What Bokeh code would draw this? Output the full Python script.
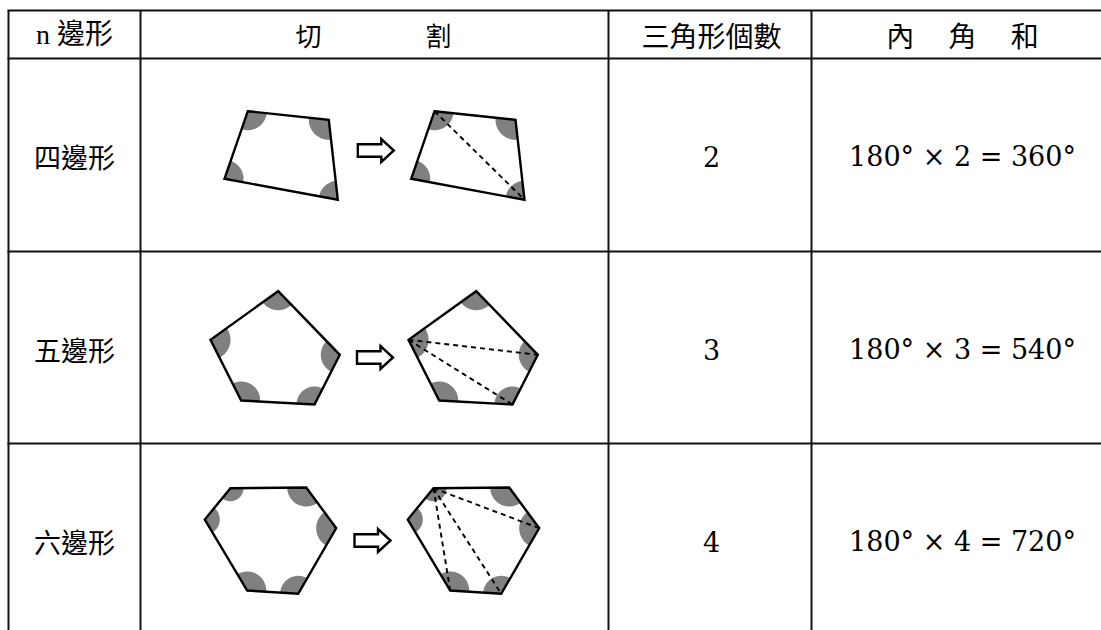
import numpy as np
from bokeh.plotting import figure
from bokeh.models import Range1d
from bokeh.core.properties import value
from bokeh.embed import file_html
from bokeh.resources import INLINE

# ---------------- data ----------------
headers = ["n 邊形", "切　　　　割", "三角形個數", "內　 角　 和"]
row_labels = ["四邊形", "五邊形", "六邊形"]
triangle_counts = [2, 3, 4]
angle_sums = [360, 540, 720]

# polygon vertices (page pixels, y downward) of the original shapes
quad_vertices = [(247.3, 110.7), (328.3, 119.3), (337.3, 199.3), (224.0, 178.3)]
pent_vertices = [(277.7, 290.7), (339.3, 354.3), (314.0, 404.0), (240.7, 400.0), (210.0, 339.3)]
hexa_vertices = [(230.0, 487.7), (305.7, 487.0), (335.7, 527.7), (297.7, 593.3), (246.7, 590.0), (204.3, 519.0)]
shapes = [quad_vertices, pent_vertices, hexa_vertices]
# angle marker radius per vertex
wedge_radii = [[19, 20, 19, 19], [19, 19, 18, 19, 20], [13, 19, 20, 18, 19, 15]]
# shift of the cut copy, vertex from which diagonals are drawn
split_shift = [186.7, 198.0, 203.0]
diag_apex = [0, 4, 0]
# arrow centres
arrow_centers = [(375.3, 150.0), (374.5, 357.0), (372.0, 540.0)]

# ---------------- layout ----------------
W, H = 1101, 630
col_lines = [8, 140, 608, 811]
row_lines = [10, 58, 251, 443]
col_centers = [74, 373, 711, 962]
header_y = 34
row_text_y = [156, 349, 541]

p = figure(width=W, height=H, output_backend="svg", toolbar_location=None,
           x_range=Range1d(0, W), y_range=Range1d(H, 0),
           min_border=0, outline_line_color=None, background_fill_color="white",
           border_fill_color="white")
p.xaxis.visible = False
p.yaxis.visible = False
p.grid.visible = False

# table lines
p.segment(x0=[col_lines[0] - 1] * len(row_lines), y0=row_lines, x1=[W + 20] * len(row_lines), y1=row_lines,
          line_color="#111111", line_width=2)
p.segment(x0=col_lines, y0=[row_lines[0]] * len(col_lines), x1=col_lines, y1=[H + 20] * len(col_lines),
          line_color="#111111", line_width=2)


def wedge_patch(verts, i, r):
    v = np.array(verts[i])
    a = np.array(verts[i - 1])
    b = np.array(verts[(i + 1) % len(verts)])
    ta = np.arctan2(*(a - v)[::-1])
    tb = np.arctan2(*(b - v)[::-1])
    d = (tb - ta + np.pi) % (2 * np.pi) - np.pi
    t = np.linspace(ta, ta + d, 40)
    xs = [v[0]] + list(v[0] + r * np.cos(t))
    ys = [v[1]] + list(v[1] + r * np.sin(t))
    return xs, ys


poly_xs, poly_ys, w_xs, w_ys = [], [], [], []
d_x0, d_y0, d_x1, d_y1 = [], [], [], []
for k, verts in enumerate(shapes):
    for shift in (0.0, split_shift[k]):
        sv = [(x + shift, y) for x, y in verts]
        poly_xs.append([q[0] for q in sv])
        poly_ys.append([q[1] for q in sv])
        for i in range(len(sv)):
            wx, wy = wedge_patch(sv, i, wedge_radii[k][i])
            w_xs.append(wx)
            w_ys.append(wy)
        if shift:
            n = len(sv)
            a = diag_apex[k]
            for j in range(n):
                if j not in (a, (a + 1) % n, (a - 1) % n):
                    d_x0.append(sv[a][0]); d_y0.append(sv[a][1])
                    d_x1.append(sv[j][0]); d_y1.append(sv[j][1])

p.patches(poly_xs, poly_ys, fill_color="white", line_color=None)
p.patches(w_xs, w_ys, fill_color="#808080", line_color=None)
p.segment(d_x0, d_y0, d_x1, d_y1, line_color="black", line_width=1.9, line_dash="5 4")
p.patches(poly_xs, poly_ys, fill_color=None, line_color="black", line_width=2.4, line_join="miter")

# arrows (hollow block arrows)
arrow_dx = [-18, 5.5, 5.5, 18, 5.5, 5.5, -18]
arrow_dy = [-6.3, -6.3, -11.5, 0, 11.5, 6.3, 6.3]
a_xs = [[cx + dx for dx in arrow_dx] for cx, cy in arrow_centers]
a_ys = [[cy + dy for dy in arrow_dy] for cx, cy in arrow_centers]
p.patches(a_xs, a_ys, fill_color="white", line_color="black", line_width=2.4, line_join="miter")

cjk = value("Noto Sans CJK TC")

# headers
p.text(x=[col_centers[1]], y=[header_y], text=[headers[1]], text_font=cjk, text_font_size="26px",
       text_align="center", text_baseline="middle", text_color="black")
p.text(x=col_centers[2:], y=[header_y] * 2, text=headers[2:], text_font=cjk, text_font_size="28px",
       text_align="center", text_baseline="middle", text_color="black")
p.text(x=[col_centers[0]], y=[header_y], text=[headers[0]],
       text_font=value("Liberation Serif, Noto Sans CJK TC"), text_font_size="28px",
       text_align="center", text_baseline="middle", text_color="black")

# row labels
p.text(x=[col_centers[0]] * 3, y=row_text_y, text=row_labels, text_font=cjk, text_font_size="27px",
       text_align="center", text_baseline="middle", text_color="black")

# counts
p.text(x=[col_centers[2]] * 3, y=row_text_y, text=[str(c) for c in triangle_counts],
       text_font=value("DejaVu Serif"), text_font_size="27px",
       text_align="center", text_baseline="middle", text_color="black")

# formulas
formulas = [f"180° × {c} = {s}°" for c, s in zip(triangle_counts, angle_sums)]
p.text(x=[col_centers[3]] * 3, y=row_text_y, text=formulas,
       text_font=value("DejaVu Serif"), text_font_size="27px",
       text_align="center", text_baseline="middle", text_color="black")

open("out.html", "w").write(file_html(p, INLINE))
